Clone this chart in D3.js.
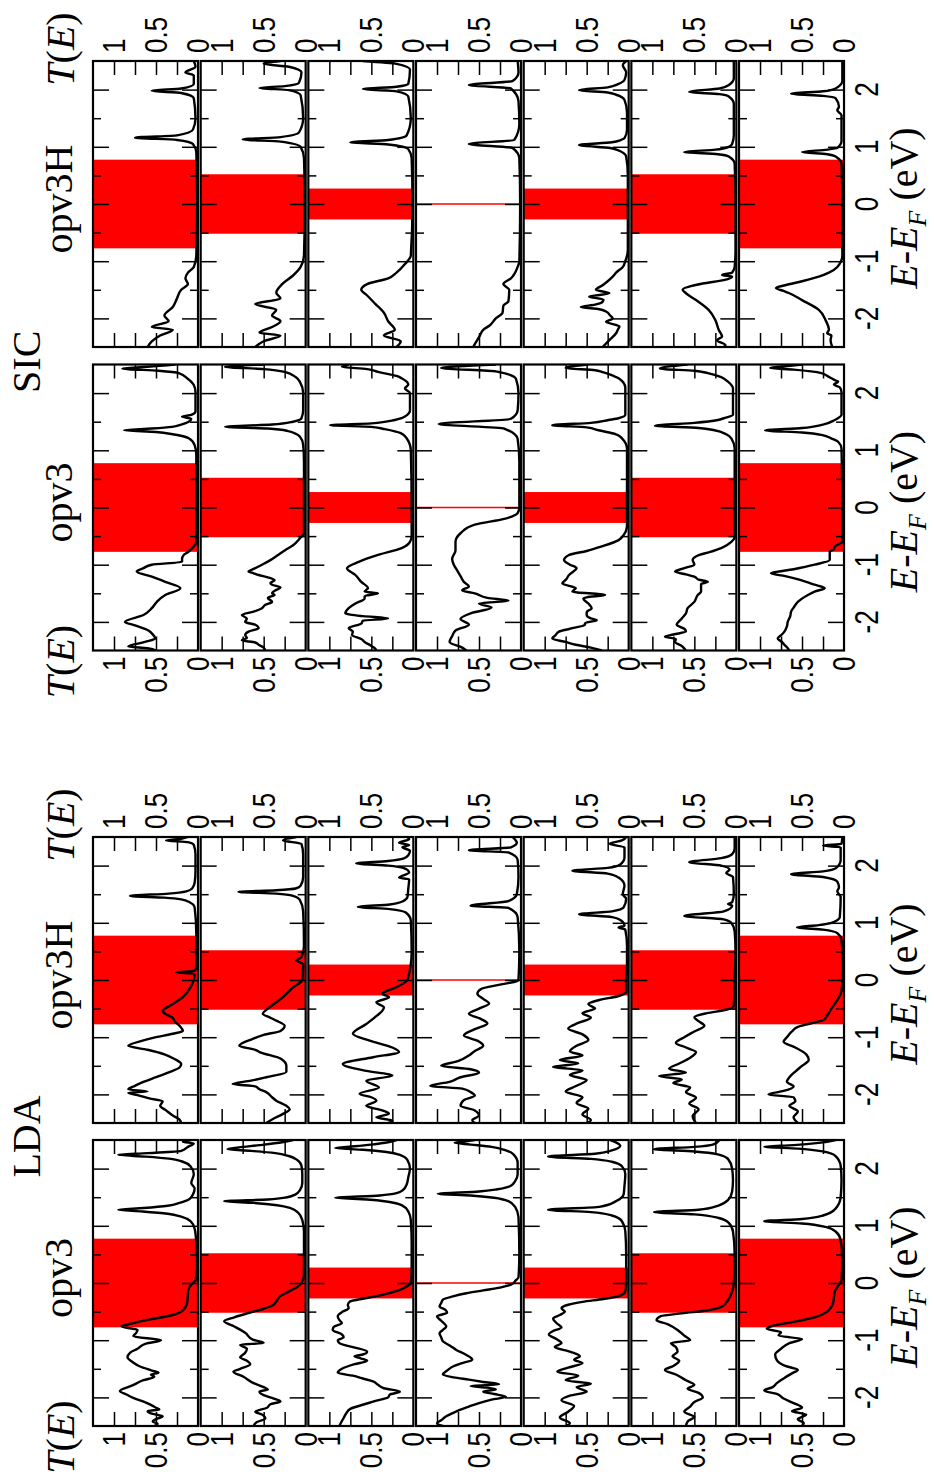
<!DOCTYPE html>
<html><head><meta charset="utf-8">
<script src="https://cdn.jsdelivr.net/npm/d3@7"></script>
<style>body{margin:0;background:#fff}svg{display:block}</style>
</head><body><svg id="c" width="934" height="1474"></svg>
<script>
// ---------------- data ----------------
const energyMajor = [-2, -1, 0, 1, 2];
const energyMinor = [-1.5, -0.5, 0.5, 1.5];
const energyLabels = ["-2", "-1", "0", "1", "2"];
const transTicks = [0.25, 0.5, 0.75, 1];
const transLabelValues = [1, 0.5, 0];
const transLabels = ["1", "0.5", "0"];
const biasWindows = [0.775, 0.52, 0.27, 0, 0.27, 0.52, 0.775];
const methods = ["SIC", "LDA"];
const molecules = ["opv3H", "opv3", "opv3H", "opv3"];

// each curve: [E - E_F (eV), T(E)]
const sicOpv3H = [
 [[2.5,0.05],[2.4,0.03],[2.3,0.15],[2.25,0.05],[2.1,0.05],[2.02,0.2],[1.98,0.55],[1.94,0.2],[1.85,0.05],[1.5,0.03],[1.3,0.06],[1.2,0.25],[1.16,0.75],[1.12,0.25],[1.05,0.06],[0.9,0.02],[0.0,0.01],[-0.9,0.02],[-1.1,0.05],[-1.2,0.12],[-1.3,0.15],[-1.4,0.12],[-1.5,0.2],[-1.65,0.25],[-1.8,0.3],[-1.95,0.4],[-2.05,0.35],[-2.15,0.55],[-2.2,0.3],[-2.3,0.45],[-2.4,0.55],[-2.5,0.6]],
 [[2.5,0.3],[2.45,0.5],[2.4,0.2],[2.3,0.05],[2.12,0.08],[2.06,0.25],[2.03,0.55],[1.99,0.2],[1.9,0.06],[1.5,0.03],[1.25,0.08],[1.17,0.3],[1.13,0.75],[1.09,0.3],[1.0,0.06],[0.8,0.02],[0.0,0.01],[-0.9,0.02],[-1.1,0.06],[-1.25,0.15],[-1.4,0.28],[-1.55,0.35],[-1.65,0.3],[-1.75,0.6],[-1.85,0.35],[-1.95,0.4],[-2.05,0.3],[-2.15,0.4],[-2.25,0.55],[-2.3,0.3],[-2.4,0.5],[-2.5,0.6]],
 [[2.5,0.6],[2.45,0.2],[2.35,0.04],[2.1,0.06],[2.05,0.2],[2.01,0.6],[1.97,0.2],[1.88,0.06],[1.5,0.03],[1.2,0.08],[1.12,0.3],[1.08,0.75],[1.04,0.3],[0.96,0.06],[0.8,0.02],[0.0,0.01],[-0.9,0.03],[-1.05,0.1],[-1.2,0.2],[-1.3,0.3],[-1.4,0.55],[-1.5,0.62],[-1.6,0.55],[-1.75,0.45],[-1.9,0.35],[-2.05,0.3],[-2.2,0.22],[-2.3,0.35],[-2.4,0.15],[-2.5,0.2]],
 [[2.5,0.04],[2.3,0.03],[2.15,0.1],[2.08,0.62],[2.02,0.12],[1.8,0.03],[1.4,0.02],[1.12,0.08],[1.05,0.62],[0.98,0.1],[0.8,0.02],[0.0,0.01],[-1.0,0.02],[-1.1,0.04],[-1.3,0.12],[-1.4,0.21],[-1.5,0.14],[-1.7,0.15],[-1.78,0.21],[-1.9,0.22],[-2.0,0.3],[-2.12,0.37],[-2.2,0.45],[-2.3,0.49],[-2.45,0.55],[-2.5,0.57]],
 [[2.5,0.03],[2.43,0.07],[2.3,0.03],[2.17,0.05],[2.1,0.12],[2.04,0.25],[1.99,0.59],[1.95,0.25],[1.91,0.15],[1.82,0.05],[1.6,0.02],[1.3,0.02],[1.15,0.05],[1.12,0.09],[1.08,0.2],[1.03,0.59],[0.98,0.22],[0.94,0.13],[0.83,0.03],[0.5,0.01],[0.0,0.01],[-0.8,0.01],[-1.0,0.04],[-1.1,0.07],[-1.2,0.15],[-1.27,0.19],[-1.35,0.25],[-1.42,0.31],[-1.5,0.39],[-1.56,0.23],[-1.62,0.47],[-1.67,0.3],[-1.71,0.31],[-1.76,0.4],[-1.8,0.57],[-1.84,0.35],[-1.88,0.27],[-1.95,0.22],[-2.0,0.19],[-2.06,0.27],[-2.14,0.11],[-2.2,0.13],[-2.26,0.15],[-2.38,0.23],[-2.5,0.31]],
 [[2.5,0.03],[2.2,0.03],[2.08,0.09],[2.02,0.2],[1.96,0.56],[1.92,0.2],[1.88,0.09],[1.75,0.03],[1.2,0.03],[1.05,0.05],[1.0,0.09],[0.95,0.25],[0.91,0.62],[0.87,0.22],[0.83,0.09],[0.7,0.02],[0.0,0.01],[-0.8,0.01],[-1.1,0.02],[-1.2,0.05],[-1.24,0.17],[-1.27,0.05],[-1.33,0.15],[-1.39,0.4],[-1.5,0.64],[-1.56,0.6],[-1.68,0.48],[-1.85,0.33],[-2.03,0.25],[-2.2,0.21],[-2.32,0.17],[-2.38,0.23],[-2.47,0.13],[-2.5,0.15]],
 [[2.5,0.02],[2.15,0.02],[2.02,0.1],[1.97,0.25],[1.93,0.63],[1.89,0.25],[1.85,0.1],[1.7,0.06],[1.64,0.08],[1.55,0.03],[1.1,0.03],[0.98,0.08],[0.95,0.2],[0.91,0.5],[0.87,0.2],[0.83,0.1],[0.7,0.03],[0.0,0.02],[-0.9,0.02],[-1.1,0.08],[-1.2,0.18],[-1.27,0.3],[-1.35,0.5],[-1.42,0.7],[-1.47,0.81],[-1.52,0.72],[-1.56,0.65],[-1.68,0.5],[-1.85,0.3],[-2.03,0.22],[-2.2,0.18],[-2.26,0.2],[-2.3,0.15],[-2.38,0.16],[-2.5,0.14]]
];

const sicOpv3 = [
 [[2.5,0.27],[2.46,0.6],[2.43,0.9],[2.39,0.47],[2.35,0.23],[2.26,0.13],[2.14,0.05],[2.02,0.03],[1.68,0.03],[1.62,0.08],[1.59,0.19],[1.55,0.08],[1.5,0.11],[1.45,0.2],[1.41,0.31],[1.38,0.55],[1.35,0.88],[1.32,0.5],[1.28,0.3],[1.21,0.11],[1.09,0.04],[0.92,0.02],[0.0,0.02],[-0.6,0.02],[-0.68,0.05],[-0.77,0.11],[-0.83,0.17],[-0.9,0.19],[-0.95,0.19],[-1.0,0.55],[-1.06,0.65],[-1.12,0.73],[-1.21,0.55],[-1.3,0.39],[-1.41,0.21],[-1.53,0.39],[-1.65,0.49],[-1.76,0.55],[-1.88,0.65],[-2.0,0.87],[-2.06,0.75],[-2.15,0.59],[-2.2,0.55],[-2.29,0.51],[-2.35,0.63],[-2.43,0.83],[-2.46,0.6],[-2.5,0.5]],
 [[2.5,0.5],[2.46,0.96],[2.42,0.5],[2.37,0.25],[2.28,0.12],[2.2,0.07],[2.0,0.03],[1.7,0.03],[1.56,0.05],[1.5,0.15],[1.45,0.4],[1.41,0.96],[1.38,0.45],[1.34,0.22],[1.24,0.07],[1.1,0.03],[0.8,0.02],[0.0,0.02],[-0.45,0.02],[-0.54,0.07],[-0.66,0.15],[-0.75,0.25],[-0.83,0.33],[-0.92,0.42],[-1.0,0.52],[-1.06,0.6],[-1.12,0.68],[-1.15,0.62],[-1.18,0.56],[-1.22,0.45],[-1.27,0.37],[-1.32,0.42],[-1.35,0.4],[-1.4,0.3],[-1.44,0.35],[-1.5,0.4],[-1.53,0.37],[-1.58,0.45],[-1.65,0.4],[-1.7,0.48],[-1.76,0.52],[-1.82,0.62],[-1.88,0.76],[-1.94,0.7],[-2.0,0.72],[-2.05,0.6],[-2.11,0.56],[-2.17,0.68],[-2.23,0.72],[-2.28,0.7],[-2.32,0.76],[-2.36,0.6],[-2.4,0.56],[-2.45,0.5],[-2.5,0.48]],
 [[2.5,0.77],[2.46,0.85],[2.42,0.55],[2.37,0.42],[2.3,0.2],[2.26,0.14],[2.15,0.06],[2.08,0.1],[2.0,0.04],[1.7,0.04],[1.59,0.1],[1.53,0.22],[1.47,0.5],[1.44,0.99],[1.41,0.5],[1.37,0.34],[1.3,0.15],[1.21,0.08],[1.0,0.03],[0.0,0.02],[-0.5,0.02],[-0.6,0.04],[-0.71,0.14],[-0.83,0.42],[-0.95,0.65],[-1.06,0.79],[-1.18,0.69],[-1.3,0.62],[-1.41,0.54],[-1.47,0.58],[-1.5,0.42],[-1.55,0.58],[-1.59,0.58],[-1.68,0.69],[-1.76,0.77],[-1.85,0.81],[-1.9,0.6],[-1.94,0.3],[-1.98,0.6],[-2.03,0.62],[-2.11,0.77],[-2.17,0.72],[-2.23,0.73],[-2.3,0.62],[-2.35,0.58],[-2.42,0.5],[-2.46,0.46],[-2.5,0.44]],
 [[2.5,0.3],[2.44,0.95],[2.38,0.3],[2.25,0.06],[2.0,0.03],[1.7,0.04],[1.55,0.12],[1.46,0.98],[1.38,0.2],[1.2,0.04],[0.8,0.02],[0.0,0.02],[-0.1,0.04],[-0.2,0.2],[-0.3,0.55],[-0.45,0.72],[-0.6,0.78],[-0.75,0.78],[-0.9,0.82],[-1.0,0.8],[-1.1,0.76],[-1.2,0.72],[-1.3,0.68],[-1.38,0.62],[-1.45,0.7],[-1.5,0.55],[-1.58,0.4],[-1.63,0.15],[-1.68,0.5],[-1.75,0.35],[-1.85,0.6],[-1.95,0.72],[-2.05,0.62],[-2.15,0.78],[-2.25,0.82],[-2.35,0.85],[-2.45,0.7],[-2.5,0.65]],
 [[2.5,0.48],[2.44,0.75],[2.4,0.4],[2.37,0.32],[2.3,0.18],[2.26,0.12],[2.1,0.04],[1.8,0.04],[1.62,0.04],[1.56,0.12],[1.53,0.24],[1.48,0.45],[1.44,0.91],[1.4,0.5],[1.35,0.36],[1.28,0.15],[1.21,0.08],[1.03,0.02],[0.5,0.02],[0.0,0.02],[-0.3,0.02],[-0.4,0.03],[-0.48,0.06],[-0.57,0.12],[-0.68,0.32],[-0.76,0.5],[-0.83,0.71],[-0.92,0.77],[-1.0,0.7],[-1.06,0.62],[-1.12,0.66],[-1.18,0.71],[-1.25,0.74],[-1.33,0.79],[-1.41,0.63],[-1.47,0.67],[-1.53,0.28],[-1.57,0.5],[-1.59,0.54],[-1.68,0.48],[-1.76,0.44],[-1.83,0.5],[-1.88,0.5],[-1.94,0.45],[-1.97,0.38],[-2.02,0.52],[-2.05,0.52],[-2.12,0.7],[-2.17,0.83],[-2.23,0.87],[-2.29,0.91],[-2.35,0.75],[-2.4,0.63],[-2.45,0.45],[-2.5,0.32]],
 [[2.5,0.58],[2.43,0.91],[2.39,0.5],[2.35,0.34],[2.28,0.18],[2.2,0.1],[2.08,0.04],[1.8,0.04],[1.62,0.04],[1.56,0.15],[1.53,0.22],[1.48,0.5],[1.43,0.97],[1.39,0.45],[1.35,0.26],[1.28,0.12],[1.21,0.06],[1.03,0.02],[0.0,0.02],[-0.52,0.02],[-0.6,0.06],[-0.71,0.18],[-0.78,0.32],[-0.83,0.44],[-0.92,0.52],[-1.0,0.5],[-1.06,0.62],[-1.12,0.73],[-1.17,0.6],[-1.21,0.5],[-1.26,0.45],[-1.3,0.34],[-1.34,0.42],[-1.38,0.42],[-1.47,0.42],[-1.53,0.46],[-1.65,0.5],[-1.76,0.58],[-1.85,0.6],[-1.94,0.65],[-2.05,0.71],[-2.12,0.62],[-2.17,0.6],[-2.22,0.75],[-2.26,0.85],[-2.3,0.72],[-2.35,0.73],[-2.42,0.65],[-2.5,0.6]],
 [[2.5,0.5],[2.47,0.7],[2.44,0.88],[2.41,0.6],[2.35,0.27],[2.3,0.2],[2.26,0.15],[2.22,0.1],[2.2,0.07],[2.15,0.12],[2.1,0.05],[2.02,0.03],[1.62,0.03],[1.53,0.11],[1.45,0.25],[1.39,0.5],[1.35,0.94],[1.31,0.5],[1.27,0.27],[1.2,0.14],[1.15,0.07],[1.03,0.03],[0.0,0.02],[-0.6,0.02],[-0.68,0.11],[-0.73,0.12],[-0.77,0.17],[-0.92,0.17],[-1.0,0.35],[-1.08,0.6],[-1.15,0.87],[-1.2,0.7],[-1.24,0.59],[-1.3,0.45],[-1.35,0.35],[-1.41,0.23],[-1.47,0.35],[-1.53,0.43],[-1.65,0.55],[-1.75,0.6],[-1.82,0.63],[-1.9,0.64],[-2.0,0.67],[-2.08,0.68],[-2.17,0.71],[-2.22,0.74],[-2.29,0.79],[-2.35,0.74],[-2.4,0.71],[-2.46,0.67],[-2.5,0.65]]
];

const ldaOpv3H = [
 [[2.5,0.12],[2.47,0.2],[2.44,0.38],[2.41,0.12],[2.36,0.05],[2.2,0.03],[1.9,0.03],[1.7,0.04],[1.6,0.07],[1.55,0.14],[1.51,0.35],[1.47,0.81],[1.44,0.4],[1.41,0.2],[1.36,0.1],[1.27,0.04],[0.8,0.02],[0.25,0.02],[0.16,0.04],[0.13,0.26],[0.11,0.04],[0.0,0.05],[-0.13,0.09],[-0.3,0.18],[-0.42,0.3],[-0.54,0.42],[-0.6,0.38],[-0.66,0.3],[-0.72,0.28],[-0.8,0.22],[-0.89,0.18],[-0.94,0.3],[-1.0,0.5],[-1.06,0.66],[-1.15,0.83],[-1.22,0.6],[-1.3,0.4],[-1.38,0.28],[-1.47,0.2],[-1.53,0.22],[-1.61,0.34],[-1.7,0.5],[-1.78,0.65],[-1.85,0.75],[-1.91,0.83],[-1.95,0.6],[-1.97,0.83],[-2.02,0.7],[-2.07,0.58],[-2.12,0.42],[-2.2,0.45],[-2.28,0.38],[-2.37,0.3],[-2.44,0.22],[-2.5,0.2]],
 [[2.5,0.11],[2.44,0.27],[2.38,0.05],[2.2,0.03],[1.8,0.03],[1.65,0.06],[1.6,0.12],[1.57,0.35],[1.54,0.8],[1.51,0.35],[1.47,0.15],[1.4,0.07],[1.2,0.03],[0.6,0.02],[0.4,0.05],[0.34,0.11],[0.28,0.03],[0.0,0.04],[-0.13,0.15],[-0.3,0.27],[-0.48,0.43],[-0.59,0.51],[-0.66,0.42],[-0.71,0.35],[-0.8,0.25],[-0.89,0.3],[-0.96,0.5],[-1.03,0.63],[-1.15,0.79],[-1.22,0.6],[-1.26,0.55],[-1.38,0.29],[-1.5,0.23],[-1.61,0.23],[-1.7,0.47],[-1.76,0.65],[-1.82,0.87],[-1.86,0.6],[-1.91,0.55],[-1.96,0.47],[-2.05,0.4],[-2.11,0.35],[-2.2,0.23],[-2.26,0.19],[-2.34,0.27],[-2.43,0.39],[-2.5,0.47]],
 [[2.5,0.07],[2.46,0.05],[2.4,0.17],[2.36,0.05],[2.32,0.13],[2.26,0.04],[2.18,0.06],[2.12,0.12],[2.08,0.3],[2.04,0.68],[2.0,0.3],[1.96,0.12],[1.88,0.05],[1.79,0.17],[1.76,0.05],[1.6,0.06],[1.45,0.07],[1.38,0.12],[1.32,0.28],[1.28,0.66],[1.24,0.28],[1.18,0.09],[1.04,0.03],[0.5,0.02],[0.0,0.07],[-0.13,0.21],[-0.24,0.37],[-0.3,0.29],[-0.39,0.44],[-0.48,0.35],[-0.54,0.37],[-0.62,0.43],[-0.77,0.56],[-0.94,0.72],[-1.06,0.52],[-1.18,0.25],[-1.26,0.17],[-1.35,0.48],[-1.47,0.84],[-1.59,0.56],[-1.67,0.25],[-1.76,0.56],[-1.88,0.41],[-1.99,0.64],[-2.05,0.5],[-2.11,0.44],[-2.2,0.56],[-2.28,0.37],[-2.34,0.29],[-2.4,0.44],[-2.46,0.25],[-2.5,0.3]],
 [[2.5,0.1],[2.4,0.05],[2.32,0.12],[2.27,0.62],[2.23,0.15],[2.1,0.04],[1.8,0.03],[1.5,0.05],[1.38,0.15],[1.3,0.6],[1.26,0.15],[1.1,0.04],[0.5,0.02],[0.0,0.03],[-0.02,0.05],[-0.08,0.25],[-0.16,0.48],[-0.24,0.52],[-0.33,0.45],[-0.41,0.38],[-0.5,0.5],[-0.59,0.62],[-0.68,0.48],[-0.76,0.4],[-0.86,0.55],[-0.97,0.68],[-1.06,0.52],[-1.15,0.45],[-1.24,0.55],[-1.32,0.62],[-1.42,0.75],[-1.5,0.95],[-1.56,0.6],[-1.62,0.5],[-1.7,0.72],[-1.78,0.85],[-1.85,1.08],[-1.9,0.7],[-1.96,0.6],[-2.02,0.55],[-2.1,0.68],[-2.2,0.72],[-2.28,0.55],[-2.37,0.5],[-2.45,0.58],[-2.5,0.55]],
 [[2.5,0.03],[2.44,0.08],[2.38,0.23],[2.32,0.05],[2.14,0.05],[2.02,0.1],[1.96,0.25],[1.91,0.67],[1.86,0.25],[1.79,0.12],[1.65,0.05],[1.5,0.07],[1.42,0.03],[1.27,0.06],[1.2,0.2],[1.15,0.59],[1.1,0.2],[1.04,0.09],[0.95,0.05],[0.92,0.12],[0.88,0.04],[0.6,0.02],[0.2,0.02],[0.0,0.03],[-0.2,0.03],[-0.28,0.12],[-0.35,0.35],[-0.42,0.48],[-0.5,0.4],[-0.58,0.55],[-0.66,0.45],[-0.75,0.6],[-0.85,0.72],[-0.95,0.55],[-1.05,0.48],[-1.15,0.62],[-1.25,0.7],[-1.32,0.55],[-1.4,0.82],[-1.46,0.6],[-1.52,0.9],[-1.58,0.55],[-1.66,0.7],[-1.75,0.5],[-1.85,0.62],[-1.95,0.75],[-2.05,0.55],[-2.15,0.62],[-2.25,0.48],[-2.35,0.55],[-2.45,0.45],[-2.5,0.5]],
 [[2.5,0.02],[2.3,0.02],[2.2,0.05],[2.13,0.18],[2.06,0.56],[2.0,0.18],[1.93,0.08],[1.87,0.12],[1.8,0.04],[1.5,0.03],[1.36,0.05],[1.33,0.1],[1.3,0.05],[1.2,0.15],[1.12,0.62],[1.06,0.15],[1.0,0.06],[0.85,0.02],[0.5,0.01],[0.0,0.02],[-0.45,0.03],[-0.52,0.12],[-0.58,0.35],[-0.65,0.5],[-0.72,0.45],[-0.8,0.38],[-0.9,0.5],[-1.0,0.62],[-1.1,0.72],[-1.18,0.6],[-1.26,0.48],[-1.36,0.55],[-1.46,0.68],[-1.55,0.8],[-1.62,0.6],[-1.68,0.92],[-1.74,0.65],[-1.8,0.75],[-1.88,0.55],[-1.96,0.6],[-2.06,0.48],[-2.16,0.56],[-2.26,0.45],[-2.38,0.52],[-2.5,0.48]],
 [[2.5,0.02],[2.38,0.03],[2.35,0.25],[2.32,0.04],[2.1,0.04],[1.95,0.1],[1.9,0.25],[1.85,0.63],[1.8,0.25],[1.72,0.08],[1.62,0.06],[1.55,0.08],[1.45,0.04],[1.1,0.05],[1.0,0.15],[0.96,0.3],[0.92,0.56],[0.88,0.25],[0.82,0.08],[0.7,0.03],[0.2,0.01],[-0.2,0.03],[-0.35,0.08],[-0.5,0.15],[-0.62,0.2],[-0.7,0.25],[-0.76,0.4],[-0.82,0.55],[-0.9,0.62],[-1.0,0.68],[-1.08,0.72],[-1.18,0.58],[-1.3,0.45],[-1.4,0.42],[-1.5,0.5],[-1.6,0.58],[-1.7,0.65],[-1.78,0.68],[-1.86,0.6],[-1.94,0.72],[-2.0,0.9],[-2.05,0.6],[-2.12,0.58],[-2.2,0.65],[-2.3,0.55],[-2.4,0.6],[-2.5,0.55]]
];

const ldaOpv3 = [
 [[2.5,0.08],[2.47,0.18],[2.44,0.05],[2.38,0.12],[2.31,0.2],[2.27,0.6],[2.24,0.95],[2.21,0.62],[2.17,0.32],[2.12,0.18],[2.04,0.09],[1.9,0.05],[1.75,0.08],[1.65,0.04],[1.55,0.06],[1.47,0.1],[1.4,0.22],[1.35,0.36],[1.31,0.65],[1.28,0.95],[1.25,0.66],[1.21,0.36],[1.16,0.2],[1.08,0.09],[0.95,0.04],[0.7,0.02],[0.3,0.01],[0.05,0.03],[-0.03,0.08],[-0.12,0.115],[-0.35,0.13],[-0.48,0.18],[-0.56,0.3],[-0.63,0.55],[-0.7,0.77],[-0.76,0.91],[-0.82,0.72],[-0.88,0.74],[-0.93,0.77],[-1.0,0.44],[-1.06,0.62],[-1.15,0.72],[-1.22,0.81],[-1.3,0.84],[-1.38,0.78],[-1.46,0.69],[-1.53,0.55],[-1.57,0.47],[-1.6,0.56],[-1.64,0.52],[-1.7,0.65],[-1.79,0.78],[-1.89,0.93],[-1.95,0.85],[-2.01,0.77],[-2.08,0.64],[-2.13,0.56],[-2.18,0.5],[-2.21,0.46],[-2.24,0.6],[-2.28,0.56],[-2.33,0.42],[-2.38,0.5],[-2.42,0.54],[-2.46,0.48],[-2.5,0.52]],
 [[2.5,0.15],[2.46,0.28],[2.41,0.55],[2.37,0.8],[2.34,0.93],[2.31,0.65],[2.27,0.36],[2.22,0.2],[2.15,0.1],[2.05,0.05],[1.9,0.04],[1.75,0.04],[1.62,0.07],[1.55,0.12],[1.5,0.22],[1.46,0.45],[1.43,0.97],[1.4,0.62],[1.36,0.34],[1.31,0.18],[1.23,0.09],[1.1,0.04],[0.9,0.02],[0.5,0.02],[0.15,0.02],[0.0,0.05],[-0.08,0.11],[-0.15,0.2],[-0.23,0.3],[-0.32,0.35],[-0.38,0.38],[-0.45,0.5],[-0.52,0.67],[-0.6,0.85],[-0.67,0.97],[-0.76,0.85],[-0.87,0.72],[-0.99,0.63],[-1.02,0.55],[-1.05,0.5],[-1.08,0.78],[-1.15,0.7],[-1.22,0.72],[-1.3,0.78],[-1.36,0.7],[-1.42,0.66],[-1.5,0.78],[-1.55,0.86],[-1.64,0.74],[-1.75,0.62],[-1.82,0.5],[-1.86,0.45],[-1.9,0.55],[-1.96,0.5],[-2.02,0.38],[-2.07,0.3],[-2.12,0.42],[-2.18,0.46],[-2.25,0.6],[-2.3,0.52],[-2.37,0.48],[-2.43,0.58],[-2.5,0.62]],
 [[2.5,0.2],[2.46,0.3],[2.42,0.5],[2.39,0.7],[2.36,0.93],[2.33,0.6],[2.29,0.32],[2.24,0.16],[2.15,0.07],[2.0,0.04],[1.85,0.06],[1.72,0.08],[1.63,0.12],[1.57,0.2],[1.53,0.4],[1.49,0.93],[1.46,0.55],[1.42,0.3],[1.36,0.14],[1.25,0.06],[1.1,0.03],[0.7,0.02],[0.2,0.02],[0.0,0.03],[-0.06,0.08],[-0.12,0.16],[-0.18,0.3],[-0.23,0.44],[-0.28,0.62],[-0.32,0.75],[-0.38,0.78],[-0.44,0.77],[-0.5,0.84],[-0.58,0.9],[-0.65,0.88],[-0.7,0.85],[-0.77,0.95],[-0.82,0.96],[-0.9,0.85],[-0.95,0.83],[-1.0,0.9],[-1.06,0.87],[-1.12,0.72],[-1.2,0.55],[-1.25,0.6],[-1.28,0.7],[-1.32,0.62],[-1.36,0.55],[-1.42,0.7],[-1.5,0.85],[-1.57,0.9],[-1.62,0.72],[-1.67,0.6],[-1.72,0.48],[-1.78,0.42],[-1.84,0.35],[-1.9,0.16],[-1.95,0.28],[-2.0,0.3],[-2.06,0.45],[-2.12,0.58],[-2.2,0.75],[-2.28,0.8],[-2.36,0.83],[-2.44,0.86],[-2.5,0.88]],
 [[2.5,0.55],[2.47,0.7],[2.45,0.79],[2.42,0.6],[2.38,0.35],[2.32,0.18],[2.25,0.09],[2.1,0.04],[1.9,0.04],[1.78,0.07],[1.7,0.12],[1.64,0.28],[1.6,0.5],[1.56,0.99],[1.53,0.6],[1.49,0.32],[1.43,0.15],[1.33,0.07],[1.15,0.03],[0.5,0.02],[0.1,0.03],[0.05,0.06],[-0.03,0.12],[-0.08,0.25],[-0.13,0.45],[-0.18,0.65],[-0.23,0.8],[-0.29,0.93],[-0.35,0.95],[-0.41,0.97],[-0.47,0.9],[-0.52,0.88],[-0.58,1.0],[-0.66,0.95],[-0.76,0.89],[-0.82,0.93],[-0.88,0.97],[-0.95,0.95],[-1.02,0.93],[-1.1,0.84],[-1.17,0.77],[-1.25,0.66],[-1.34,0.58],[-1.4,0.7],[-1.46,0.81],[-1.53,0.88],[-1.6,0.93],[-1.65,0.8],[-1.69,0.62],[-1.73,0.45],[-1.77,0.26],[-1.8,0.6],[-1.83,0.4],[-1.86,0.3],[-1.9,0.45],[-1.94,0.32],[-1.99,0.18],[-2.04,0.35],[-2.1,0.5],[-2.16,0.62],[-2.22,0.73],[-2.28,0.82],[-2.33,0.89],[-2.4,0.95],[-2.45,1.0],[-2.5,0.93]],
 [[2.5,0.22],[2.4,0.1],[2.32,0.2],[2.26,0.4],[2.21,0.96],[2.17,0.45],[2.12,0.2],[2.04,0.08],[1.9,0.04],[1.7,0.05],[1.55,0.06],[1.43,0.15],[1.33,0.35],[1.28,0.96],[1.24,0.45],[1.18,0.2],[1.08,0.08],[0.9,0.04],[0.5,0.03],[0.0,0.03],[-0.15,0.04],[-0.22,0.1],[-0.28,0.3],[-0.33,0.55],[-0.38,0.72],[-0.44,0.8],[-0.5,0.76],[-0.56,0.82],[-0.62,0.9],[-0.7,0.86],[-0.78,0.8],[-0.84,0.9],[-0.9,0.95],[-0.98,0.86],[-1.05,0.8],[-1.12,0.88],[-1.2,0.7],[-1.28,0.58],[-1.34,0.65],[-1.4,0.55],[-1.48,0.72],[-1.55,0.85],[-1.62,0.6],[-1.7,0.75],[-1.76,0.45],[-1.82,0.62],[-1.9,0.5],[-1.97,0.7],[-2.05,0.8],[-2.15,0.65],[-2.25,0.72],[-2.35,0.82],[-2.45,0.7],[-2.5,0.75]],
 [[2.5,0.2],[2.42,0.28],[2.38,0.5],[2.34,0.98],[2.3,0.5],[2.25,0.22],[2.17,0.1],[2.0,0.05],[1.8,0.04],[1.6,0.05],[1.45,0.1],[1.35,0.22],[1.28,0.45],[1.24,0.98],[1.2,0.5],[1.14,0.22],[1.05,0.09],[0.9,0.04],[0.5,0.02],[0.0,0.03],[-0.15,0.05],[-0.3,0.1],[-0.42,0.18],[-0.48,0.35],[-0.53,0.65],[-0.58,0.9],[-0.65,0.95],[-0.72,0.82],[-0.82,0.7],[-0.92,0.62],[-1.0,0.55],[-1.05,0.78],[-1.12,0.72],[-1.2,0.7],[-1.28,0.76],[-1.36,0.68],[-1.45,0.75],[-1.52,0.85],[-1.6,0.72],[-1.7,0.6],[-1.78,0.5],[-1.85,0.58],[-1.92,0.45],[-2.0,0.4],[-2.08,0.5],[-2.16,0.55],[-2.25,0.62],[-2.34,0.5],[-2.42,0.58],[-2.5,0.6]],
 [[2.5,0.1],[2.45,0.3],[2.41,0.6],[2.38,0.95],[2.35,0.55],[2.3,0.25],[2.22,0.1],[2.05,0.04],[1.8,0.03],[1.5,0.04],[1.3,0.1],[1.18,0.25],[1.12,0.5],[1.08,0.95],[1.04,0.5],[0.98,0.22],[0.9,0.1],[0.75,0.04],[0.4,0.02],[0.05,0.03],[-0.05,0.07],[-0.15,0.11],[-0.35,0.13],[-0.5,0.2],[-0.6,0.35],[-0.68,0.6],[-0.75,0.85],[-0.8,0.92],[-0.86,0.75],[-0.92,0.78],[-0.98,0.5],[-1.05,0.65],[-1.15,0.75],[-1.25,0.82],[-1.35,0.8],[-1.45,0.7],[-1.52,0.55],[-1.58,0.62],[-1.65,0.7],[-1.75,0.8],[-1.82,0.85],[-1.88,0.95],[-1.94,0.8],[-2.02,0.72],[-2.1,0.6],[-2.18,0.5],[-2.24,0.62],[-2.3,0.45],[-2.38,0.55],[-2.45,0.48],[-2.5,0.5]]
];

// ---------------- layout ----------------
const svg = d3.select("#c");
const PW = 105, PH = 286, X0 = 93, STRIDE = 107.67;
const serif = "'Liberation Serif','Times New Roman',Times,serif";
const sans = "'Liberation Sans',Arial,Helvetica,sans-serif";

const blocks = [
  {method: methods[0], mol: molecules[0], curves: sicOpv3H, top: 61,    above: true},
  {method: methods[0], mol: molecules[1], curves: sicOpv3,  top: 364.5, above: false},
  {method: methods[1], mol: molecules[2], curves: ldaOpv3H, top: 837,   above: true},
  {method: methods[1], mol: molecules[3], curves: ldaOpv3,  top: 1140,  above: false}
];

function rtext(x, y, anchor, size, family, stretch) {
  return svg.append("text")
    .attr("transform", `translate(${x},${y}) rotate(-90) scale(1,${stretch || 1})`)
    .attr("text-anchor", anchor)
    .style("font-family", family)
    .style("font-size", size + "px")
    .attr("fill", "#000");
}

const defs = svg.append("defs");

blocks.forEach((b, bi) => {
  const yE = d3.scaleLinear().domain([-2.5, 2.5]).range([b.top + PH, b.top]);
  b.curves.forEach((pts, i) => {
    const x0 = X0 + i * STRIDE;
    const xT = d3.scaleLinear().domain([0, 1.25]).range([x0 + PW, x0]);
    const g = svg.append("g");
    const cid = `clip${bi}_${i}`;
    defs.append("clipPath").attr("id", cid).append("rect")
      .attr("x", x0).attr("y", b.top).attr("width", PW).attr("height", PH);
    const hw = biasWindows[i];
    if (hw > 0) {
      g.append("rect").attr("x", x0).attr("width", PW)
        .attr("y", yE(hw)).attr("height", yE(-hw) - yE(hw)).attr("fill", "#ff0000");
    } else {
      g.append("line").attr("x1", x0).attr("x2", x0 + PW)
        .attr("y1", yE(0)).attr("y2", yE(0)).attr("stroke", "#ff0000").attr("stroke-width", 1.6);
    }
    g.append("path").datum(pts)
      .attr("clip-path", `url(#${cid})`)
      .attr("fill", "none").attr("stroke", "#000").attr("stroke-width", 2.4)
      .attr("stroke-linejoin", "round")
      .attr("d", d3.line().x(d => xT(d[1])).y(d => yE(d[0])).curve(d3.curveMonotoneY));

    const tk = (axis, tx, ty) => {
      const a = g.append("g").attr("transform", `translate(${tx},${ty})`).call(axis);
      a.select(".domain").remove();
      a.selectAll("text").remove();
      a.selectAll("line").attr("stroke", "#000").attr("stroke-width", 1.5);
    };
    tk(d3.axisLeft(yE).tickValues(energyMajor).tickSize(-16).tickFormat(""), x0, 0);
    tk(d3.axisLeft(yE).tickValues(energyMinor).tickSize(-8).tickFormat(""), x0, 0);
    tk(d3.axisRight(yE).tickValues(energyMajor).tickSize(-16).tickFormat(""), x0 + PW, 0);
    tk(d3.axisRight(yE).tickValues(energyMinor).tickSize(-8).tickFormat(""), x0 + PW, 0);
    tk(d3.axisTop(xT).tickValues(transTicks).tickSize(-14).tickFormat(""), 0, b.top);
    tk(d3.axisBottom(xT).tickValues(transTicks).tickSize(-14).tickFormat(""), 0, b.top + PH);

    g.append("rect").attr("x", x0).attr("y", b.top).attr("width", PW).attr("height", PH)
      .attr("fill", "none").attr("stroke", "#000").attr("stroke-width", 2.2);

    transLabelValues.forEach((v, k) => {
      rtext(xT(v), b.above ? b.top - 8 : b.top + PH + 6, b.above ? "start" : "end", 26, sans, 1.2)
        .attr("dominant-baseline", "central").text(transLabels[k]);
    });
  });

  energyMajor.forEach((v, k) => {
    rtext(866, yE(v), "middle", 26, sans, 1.25).attr("dominant-baseline", "central").text(energyLabels[k]);
  });
  const et = rtext(917, yE(0) + 4, "middle", 40, serif);
  et.append("tspan").style("font-style", "italic").text("E");
  et.append("tspan").text("-");
  et.append("tspan").style("font-style", "italic").text("E");
  et.append("tspan").style("font-style", "italic").style("font-size", "26px").attr("dy", 9).text("F");
  et.append("tspan").attr("dy", -9).text(" (eV)");

  rtext(72, yE(0) - 5, "middle", 40, serif).text(b.mol);

  const ty = b.above ? b.top - 12 : b.top + PH + 11;
  const tl = rtext(74, ty, "middle", 40, serif);
  tl.append("tspan").style("font-style", "italic").text("T");
  tl.append("tspan").text("(");
  tl.append("tspan").style("font-style", "italic").text("E");
  tl.append("tspan").text(")");
});

rtext(40, (blocks[0].top + PH + blocks[1].top) / 2 + 6, "middle", 40, serif).text(methods[0]);
rtext(40, (blocks[2].top + PH + blocks[3].top) / 2 + 5, "middle", 40, serif).text(methods[1]);
</script>
</body></html>
